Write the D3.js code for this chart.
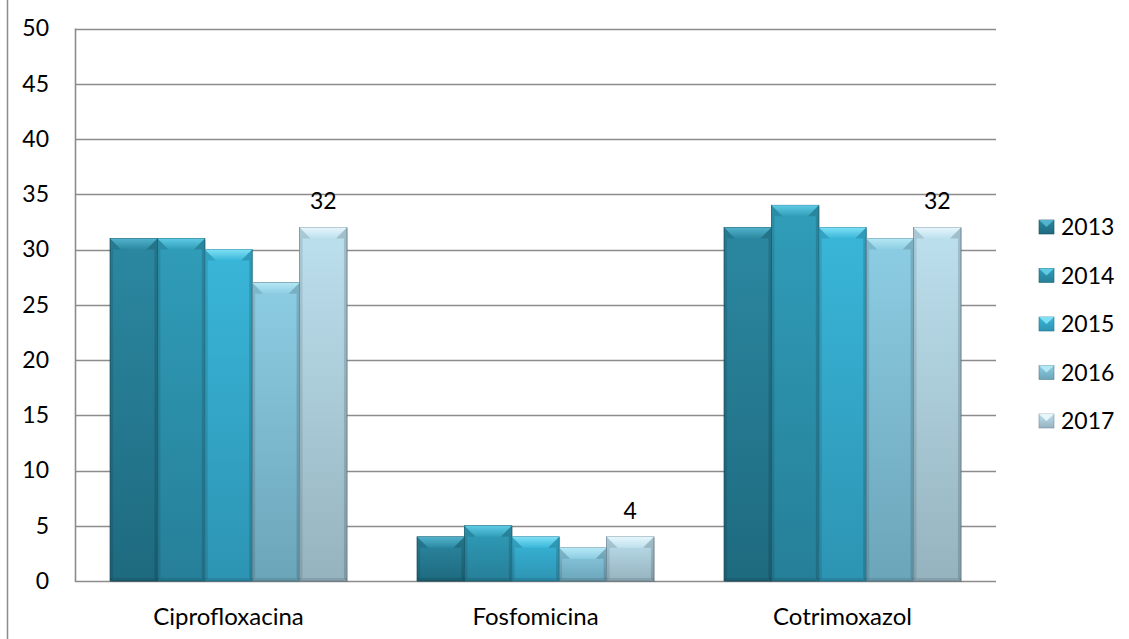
<!DOCTYPE html>
<html>
<head>
<meta charset="utf-8">
<script src="https://cdn.jsdelivr.net/npm/d3@7/dist/d3.min.js"></script>
<style>
  html, body { margin: 0; padding: 0; background: #fff; }
  svg { display: block; font-family: Lato, "Open Sans", "Liberation Sans", sans-serif; }
</style>
</head>
<body>
<svg id="chart" width="1129" height="639"></svg>
<script>
// Chart data
const categories = ["Ciprofloxacina", "Fosfomicina", "Cotrimoxazol"];
const years = ["2013", "2014", "2015", "2016", "2017"];
const values2013 = [31, 4, 32];
const values2014 = [31, 5, 34];
const values2015 = [30, 4, 32];
const values2016 = [27, 3, 31];
const values2017 = [32, 4, 32];
const yTicks = [0, 5, 10, 15, 20, 25, 30, 35, 40, 45, 50];
// Only the last series carries value labels
const labelledSeries = "2017";

const seriesValues = [values2013, values2014, values2015, values2016, values2017];

// Per-series shading: top colour, bottom colour, bevel highlight, outline
const palette = [
  { top: "#2b88a1", bottom: "#1e6a7f", hi: "#53b3cc", edge: "#174f60" },
  { top: "#309db9", bottom: "#267f98", hi: "#5fcbe5", edge: "#1c6276" },
  { top: "#39b6d9", bottom: "#2d94b3", hi: "#7fe0f5", edge: "#237690" },
  { top: "#8dcde3", bottom: "#6ba5ba", hi: "#b5e8f5", edge: "#567f90" },
  { top: "#bde0ee", bottom: "#95b3bf", hi: "#e6f6fb", edge: "#7890a0" }
];

const FS = 24;
const svg = d3.select("#chart");
const W = 1129, H = 639;
const x0 = 75, x1 = 996;
const yTop = 28.5, yBot = 581;

const x = d3.scaleBand().domain(categories).range([x0, x1]).paddingInner(0).paddingOuter(0);
const xs = d3.scaleBand().domain(years).range([0, x.bandwidth()]).paddingInner(0).paddingOuter(0.74);
const y = d3.scaleLinear().domain([0, 50]).range([yBot, yTop]);

// Gradients
const defs = svg.append("defs");
palette.forEach((p, i) => {
  const g = defs.append("linearGradient").attr("id", "g" + i)
    .attr("x1", 0).attr("y1", 0).attr("x2", 0).attr("y2", 1);
  g.append("stop").attr("offset", "0%").attr("stop-color", p.top);
  g.append("stop").attr("offset", "100%").attr("stop-color", p.bottom);
  const h = defs.append("linearGradient").attr("id", "h" + i)
    .attr("x1", 0).attr("y1", 0).attr("x2", 0).attr("y2", 1);
  h.append("stop").attr("offset", "0%").attr("stop-color", p.hi);
  h.append("stop").attr("offset", "100%").attr("stop-color", p.top);
});

// Outer frame line on the left
svg.append("line").attr("x1", 7.5).attr("x2", 7.5).attr("y1", 0).attr("y2", H)
  .attr("stroke", "#8c8c8c").attr("stroke-width", 1.5);

// Gridlines
svg.append("g").selectAll("line").data(yTicks).join("line")
  .attr("x1", x0).attr("x2", x1)
  .attr("y1", d => Math.round(y(d)) + 0.5).attr("y2", d => Math.round(y(d)) + 0.5)
  .attr("stroke", "#8c8c8c").attr("stroke-width", 1.6);

// Y axis line
svg.append("line").attr("x1", x0 + 0.5).attr("x2", x0 + 0.5).attr("y1", y(50)).attr("y2", y(0) + 1)
  .attr("stroke", "#8c8c8c").attr("stroke-width", 1.6);

// Y tick labels
const yAxis = d3.axisLeft(y).tickValues(yTicks).tickSize(0).tickPadding(0);
const yg = svg.append("g").attr("transform", `translate(${x0 - 26},0)`).call(yAxis);
yg.select(".domain").remove();
yg.selectAll("text").attr("font-size", FS - 1).attr("fill", "#000")
  .attr("font-family", "Lato, 'Open Sans', sans-serif");

// Bars
const bevel = 11, side = 3;
categories.forEach((cat, ci) => {
  const g = svg.append("g").attr("transform", `translate(${x(cat)},0)`);
  years.forEach((yr, si) => {
    const v = seriesValues[si][ci];
    const bx = xs(yr), bw = xs.bandwidth();
    const top = y(v), bot = y(0);
    const bg = g.append("g");
    // soft shadow
    bg.append("rect").attr("x", bx + 1).attr("y", top + 1).attr("width", bw).attr("height", bot - top)
      .attr("fill", "rgba(0,0,0,0.18)");
    bg.append("rect").attr("x", bx).attr("y", top).attr("width", bw).attr("height", bot - top)
      .attr("fill", `url(#g${si})`).attr("stroke", palette[si].edge).attr("stroke-width", 0.8);
    // top bevel
    const bh = Math.min(bevel, (bot - top) / 2);
    bg.append("path")
      .attr("d", `M${bx},${top}L${bx + bw},${top}L${bx + bw - bh},${top + bh}L${bx + bh},${top + bh}Z`)
      .attr("fill", `url(#h${si})`);
    // side and bottom bevels
    bg.append("path")
      .attr("d", `M${bx},${top}L${bx + bh},${top + bh}L${bx + side},${top + bh}L${bx + side},${bot - side}L${bx},${bot}Z`)
      .attr("fill", "rgba(0,0,0,0.10)");
    bg.append("path")
      .attr("d", `M${bx + bw},${top}L${bx + bw - bh},${top + bh}L${bx + bw - side},${top + bh}L${bx + bw - side},${bot - side}L${bx + bw},${bot}Z`)
      .attr("fill", "rgba(0,0,0,0.14)");
    bg.append("rect").attr("x", bx).attr("y", bot - side).attr("width", bw).attr("height", side)
      .attr("fill", "rgba(0,0,0,0.10)");
    if (yr === labelledSeries) {
      g.append("text").attr("x", bx + bw / 2).attr("y", top - 18)
        .attr("text-anchor", "middle").attr("font-size", FS - 1).attr("fill", "#000").text(v);
    }
  });
});

// X axis category labels
svg.append("g").selectAll("text").data(categories).join("text")
  .attr("x", d => x(d) + x.bandwidth() / 2).attr("y", 625)
  .attr("text-anchor", "middle").attr("font-size", FS).attr("fill", "#000").text(d => d);

// Legend
const lg = svg.append("g").attr("transform", "translate(1039,0)");
years.forEach((yr, i) => {
  const cy = 227 + i * 48.5;
  const p = palette[i];
  lg.append("rect").attr("x", 0).attr("y", cy - 7).attr("width", 15).attr("height", 14)
    .attr("fill", `url(#g${i})`).attr("stroke", p.edge).attr("stroke-width", 0.6);
  lg.append("path").attr("d", `M0,${cy - 7}L15,${cy - 7}L7.5,${cy}Z`).attr("fill", p.hi);
  lg.append("text").attr("x", 22).attr("y", cy).attr("dy", "0.35em")
    .attr("font-size", FS - 1).attr("fill", "#000").text(yr);
});
</script>
</body>
</html>
